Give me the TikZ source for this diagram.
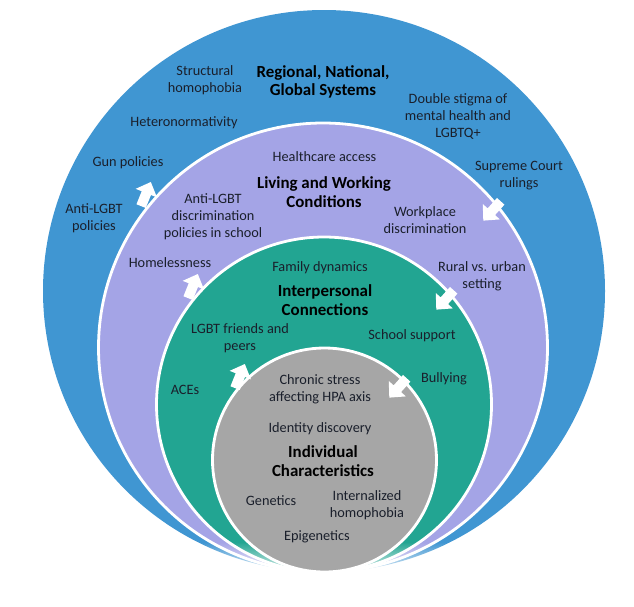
\documentclass[tikz,border=0pt]{standalone}
\usepackage{fontspec}
\setmainfont{Carlito}
\usetikzlibrary{fadings}
\definecolor{cblue}{HTML}{4096D2}
\definecolor{clav}{HTML}{A4A4E6}
\definecolor{cgreen}{HTML}{22A592}
\definecolor{cgray}{HTML}{A6A6A6}
\definecolor{ctext}{HTML}{1A1F2B}
\begin{document}
\begin{tikzpicture}[x=1pt,y=-1pt,
  ring/.style={draw=white,line width=2.8pt},
  lbl/.style={font=\fontsize{14.3}{17}\selectfont,text=ctext,align=center,inner sep=0pt},
  ttl/.style={font=\fontsize{16.9}{18.5}\selectfont\bfseries,text=black,align=center,inner sep=0pt},
  blockarrow/.pic={\fill[white] (0,-5) -- (14,-5) -- (14,-11.5) -- (26,0) -- (14,11.5) -- (14,5) -- (0,5) -- cycle;}
]
\useasboundingbox (0,0) rectangle (634,606);
\fill[cblue] (324,291) circle[radius=281pt];
\filldraw[ring,fill=clav] (323,347.5) circle[radius=224.5pt];
\filldraw[ring,fill=cgreen] (324,404.5) circle[radius=167.5pt];
% soft fade of the outer rings at the bottom
\fill[white,path fading=north] (150,542) rectangle (500,578);
\filldraw[ring,fill=cgray] (324.5,460) circle[radius=112pt];
% arrows
\pic[rotate=68] at (141.1,206.1) {blockarrow};
\pic[rotate=68] at (188.1,298.1) {blockarrow};
\pic[rotate=68] at (235.1,388.1) {blockarrow};
\pic[rotate=228] at (500.7,201.3) {blockarrow};
\pic[rotate=228] at (453.7,290.3) {blockarrow};
\pic[rotate=228] at (406.7,378.3) {blockarrow};
% outer ring
\node[ttl] (t1) at (323,82) {Regional, National,\\Global Systems};
\node[lbl] (a1) at (205,80) {Structural\\homophobia};
\node[lbl] (a2) at (184,123) {Heteronormativity};
\node[lbl] (a3) at (128,163) {Gun policies};
\node[lbl] (a4) at (94,218) {Anti-LGBT\\policies};
\node[lbl] (a5) at (458,116) {Double stigma of\\mental health and\\LGBTQ+};
\node[lbl] (a6) at (519,176) {Supreme Court\\rulings};
% lavender ring
\node[lbl] (b0) at (324.5,157) {Healthcare access};
\node[ttl] (t2) at (324,192) {Living and Working\\Conditions};
\node[lbl] (b1) at (213,217) {Anti-LGBT\\discrimination\\policies in school};
\node[lbl] (b2) at (425,220) {Workplace\\discrimination};
\node[lbl] (b3) at (170,263) {Homelessness};
\node[lbl] (b4) at (482,276) {Rural vs. urban\\setting};
% green ring
\node[lbl] (c0) at (320,268) {Family dynamics};
\node[ttl] (t3) at (325,300) {Interpersonal\\Connections};
\node[lbl] (c1) at (240,338) {LGBT friends and\\peers};
\node[lbl] (c2) at (412,336) {School support};
\node[lbl] (c3) at (185,390) {ACEs};
\node[lbl] (c4) at (444,379) {Bullying};
% gray core
\node[lbl] (d0) at (320,389) {Chronic stress\\affecting HPA axis};
\node[lbl] (d1) at (320,429) {Identity discovery};
\node[ttl] (t4) at (323,461) {Individual\\Characteristics};
\node[lbl] (d2) at (271,501) {Genetics};
\node[lbl] (d3) at (367,505) {Internalized\\homophobia};
\node[lbl] (d4) at (317,537) {Epigenetics};
\end{tikzpicture}
\end{document}
